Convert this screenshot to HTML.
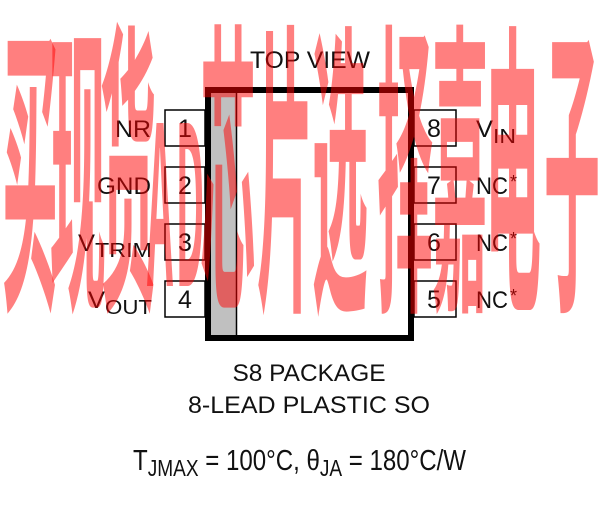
<!DOCTYPE html>
<html><head><style>html,body{margin:0;padding:0;background:#fff;}svg{display:block}</style></head>
<body>
<svg width="612" height="527" viewBox="0 0 612 527" xmlns="http://www.w3.org/2000/svg" font-family="'Liberation Sans', sans-serif">
<rect x="208" y="90" width="203" height="248" fill="#fff" stroke="#000" stroke-width="6"/>
<rect x="211" y="93" width="25" height="242" fill="#c0c0c0"/>
<line x1="236.5" y1="93" x2="236.5" y2="335" stroke="#000" stroke-width="1.5"/>
<g fill="#fff" stroke="#000" stroke-width="1.5">
<rect x="165" y="110" width="40" height="36"/>
<rect x="165" y="167" width="40" height="36"/>
<rect x="165" y="224" width="40" height="36"/>
<rect x="165" y="281" width="40" height="36"/>
<rect x="414" y="110" width="42" height="36"/>
<rect x="414" y="167" width="42" height="36"/>
<rect x="414" y="224" width="42" height="36"/>
<rect x="414" y="281" width="42" height="36"/>
</g>
<g font-size="25" fill="#111" text-anchor="middle">
<text x="185" y="137">1</text><text x="185" y="194">2</text><text x="185" y="251">3</text><text x="185" y="308">4</text>
<text x="434" y="137">8</text><text x="434" y="194">7</text><text x="434" y="251">6</text><text x="434" y="308">5</text>
</g>
<g font-size="24" fill="#111">
<text x="310" y="68" text-anchor="middle" textLength="120" lengthAdjust="spacingAndGlyphs">TOP VIEW</text>
<text x="115" y="137" textLength="36" lengthAdjust="spacingAndGlyphs">NR</text>
<text x="97" y="194" textLength="54" lengthAdjust="spacingAndGlyphs">GND</text>
<text x="78" y="251" textLength="17" lengthAdjust="spacingAndGlyphs">V</text>
<text x="95" y="257" font-size="20" textLength="57" lengthAdjust="spacingAndGlyphs">TRIM</text>
<text x="88" y="308" textLength="17" lengthAdjust="spacingAndGlyphs">V</text>
<text x="105" y="314" font-size="20" textLength="47" lengthAdjust="spacingAndGlyphs">OUT</text>
<text x="476" y="137" textLength="17" lengthAdjust="spacingAndGlyphs">V</text>
<text x="493" y="143" font-size="20" textLength="23" lengthAdjust="spacingAndGlyphs">IN</text>
<text x="476" y="194" textLength="32" lengthAdjust="spacingAndGlyphs">NC</text><text x="510" y="188" font-size="18">*</text>
<text x="476" y="251" textLength="32" lengthAdjust="spacingAndGlyphs">NC</text><text x="510" y="245" font-size="18">*</text>
<text x="476" y="308" textLength="32" lengthAdjust="spacingAndGlyphs">NC</text><text x="510" y="302" font-size="18">*</text>
<text x="309" y="381" text-anchor="middle" textLength="153" lengthAdjust="spacingAndGlyphs">S8 PACKAGE</text>
<text x="309" y="413" text-anchor="middle" textLength="242" lengthAdjust="spacingAndGlyphs">8-LEAD PLASTIC SO</text>
<g transform="translate(133,470) scale(0.83,1)" font-size="29">
<text x="0" y="0">T<tspan font-size="23" dy="6">JMAX</tspan><tspan dy="-6"> = 100°C, θ</tspan><tspan font-size="23" dy="6">JA</tspan><tspan dy="-6"> = 180°C/W</tspan></text>
</g>
</g>
<g fill="rgba(255,0,0,0.5)" font-family="'Noto Sans CJK SC', 'WenQuanYi Zen Hei', sans-serif" font-size="56" font-weight="bold" text-anchor="middle" transform="scale(1,5.5)">
<text x="30" y="52">买</text><text x="78" y="52">现</text><text x="128" y="52">货</text>
<text x="160" y="52" font-size="40">A</text><text x="190" y="52" font-size="40">D</text>
<text x="228" y="52">芯</text><text x="285" y="52">片</text><text x="340" y="52">选</text>
<text x="405" y="52">择</text><text x="460" y="52">嘉</text><text x="513" y="52">电</text><text x="572" y="52">子</text>
</g>
</svg>
</body></html>
